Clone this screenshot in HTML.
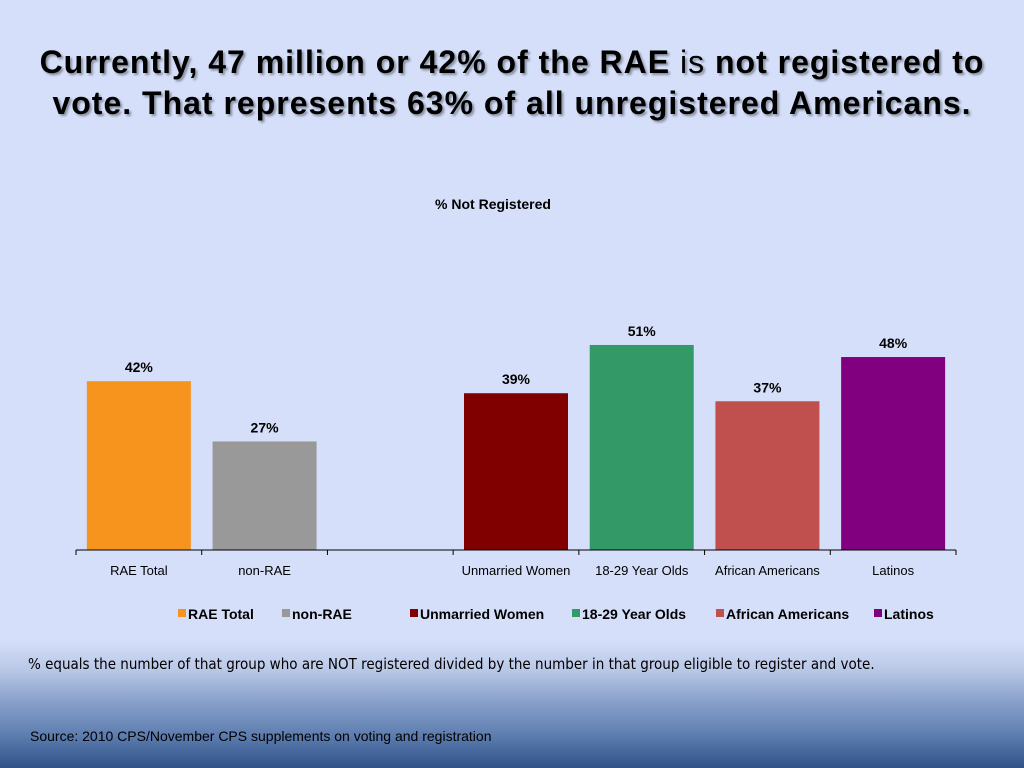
<!DOCTYPE html>
<html><head><meta charset="utf-8"><style>
body{margin:0;width:1024px;height:768px;overflow:hidden;font-family:"Liberation Sans",sans-serif;
background:linear-gradient(to bottom,#d5dffa 0px,#d5dffa 640px,#b9c8e6 670px,#8aa2cc 700px,#5e7eb0 735px,#2f5288 768px);}
.t{position:absolute;left:0;width:1024px;text-align:center;font-weight:bold;font-size:32px;letter-spacing:1px;color:#000;text-shadow:2px 2px 2px #8890a0;line-height:41px;}
</style></head><body>
<div class="t" style="top:42px">Currently, 47 million or 42% of the RAE <span style="font-weight:normal">is</span> not registered to<br>vote. That represents 63% of all unregistered Americans.</div>
<svg width="1024" height="768" style="position:absolute;left:0;top:0" id="c">
<text x="493" y="209" text-anchor="middle" font-size="14" font-weight="bold">% Not Registered</text>
</svg>
<div style="position:absolute;left:28px;top:655px;font-size:15px;font-family:'DejaVu Sans Condensed','Liberation Sans Narrow','Liberation Sans',sans-serif;color:#000">% equals the number of that group who are NOT registered divided by the number in that group eligible to register and vote.</div>
<div style="position:absolute;left:30px;top:728px;font-size:14px;color:#000">Source: 2010 CPS/November CPS supplements on voting and registration</div>
<script>
const categories=["RAE Total","non-RAE","","Unmarried Women","18-29 Year Olds","African Americans","Latinos"];
const values=[42,27,null,39,51,37,48];
const colors=["#f7941d","#999999",null,"#800000","#339966","#c0504d","#800080"];
const svg=document.getElementById('c');const NS="http://www.w3.org/2000/svg";
const x0=76,x1=956,base=550,ppu=4.02,slot=(x1-x0)/categories.length;
const y=v=>base-v*ppu;
function mk(t,a){const e=document.createElementNS(NS,t);for(const k in a)e.setAttribute(k,a[k]);svg.appendChild(e);return e;}
categories.forEach((c,i)=>{
 const cx=x0+slot*(i+0.5);
 if(values[i]!=null){
  const r=mk('rect',{x:cx-52,y:y(values[i]),width:104,height:values[i]*ppu,fill:colors[i]});
  
  
  const t=mk('text',{x:cx,y:y(values[i])-9,'text-anchor':'middle','font-size':14,'font-weight':'bold'});t.textContent=values[i]+'%';
  
  
 }
 const l=mk('text',{x:cx,y:575,'text-anchor':'middle','font-size':13});l.textContent=c;
 
 
});
const ax=mk('line',{x1:x0,x2:x1,y1:base,y2:base,stroke:'#000','stroke-width':1});


for(let i=0;i<=categories.length;i++){const tk=mk('line',{x1:x0+slot*i,x2:x0+slot*i,y1:base,y2:base+5,stroke:'#000'});
 
 }
const legX=[178,282,410,572,716,874];
let li=0;
categories.forEach((c,i)=>{if(values[i]==null)return;const lx=legX[li++];
 const s=mk('rect',{x:lx,y:609,width:8,height:8,fill:colors[i]});
 
 
 const t=mk('text',{x:lx+10,y:619,'font-size':14,'font-weight':'bold'});t.textContent=c;
 
 
});
</script>
</body></html>
